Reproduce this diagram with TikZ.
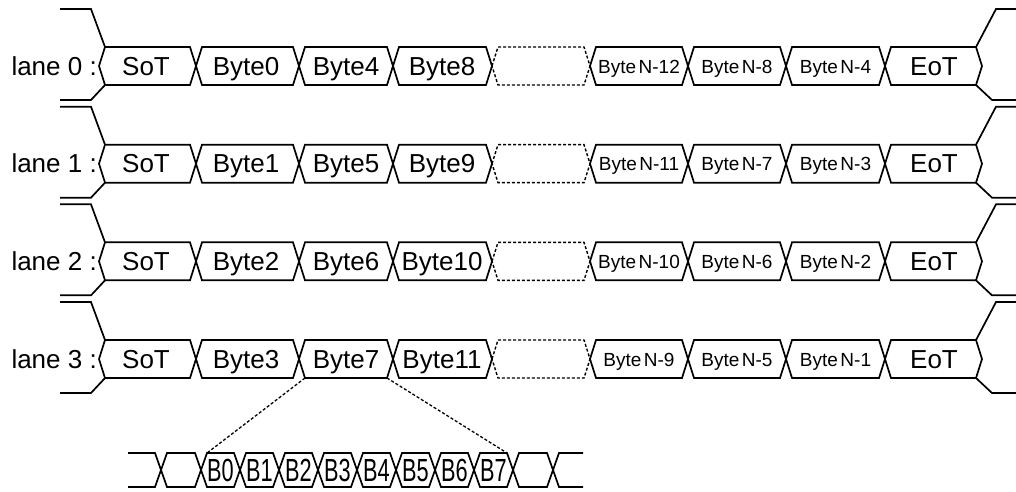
\documentclass[tikz,border=0pt]{standalone}
\usepackage{fontspec}
\usepackage{graphicx}
\setmainfont{Liberation Sans}
\tikzset{
  wave/.style={line width=1.7pt, line join=miter},
  dwave/.style={line width=1.4pt, dash pattern=on 3pt off 2pt},
  zoomline/.style={line width=1.3pt, dash pattern=on 3pt off 2pt},
  bigtxt/.style={font=\fontsize{26}{30}\selectfont, inner sep=0pt, anchor=base},
  smalltxt/.style={font=\fontsize{19}{23}\selectfont, inner sep=0pt, anchor=base},
  lanetxt/.style={font=\fontsize{26}{30}\selectfont, inner sep=0pt, anchor=base east},
  bittxt/.style={font=\fontsize{32}{34}\selectfont, inner sep=0pt, anchor=base}
}
\begin{document}
\begin{tikzpicture}[x=1pt,y=-1pt]
\useasboundingbox (0,0) rectangle (1016,491);
% lanes
\foreach \l/\ba/\bb/\bc/\na/\nb/\nc in {0/Byte0/Byte4/Byte8/12/8/4, 1/Byte1/Byte5/Byte9/11/7/3, 2/Byte2/Byte6/Byte10/10/6/2, 3/Byte3/Byte7/Byte11/9/5/1}{
  \pgfmathsetmacro\c{66+97.67*\l}
  % envelope left
  \draw[wave] (60,\c-57) -- (91,\c-57) -- (105,\c-19);
  \draw[wave] (105,\c+19) -- (91,\c+34) -- (60,\c+34);
  % envelope right
  \draw[wave] (976,\c-19) -- (996,\c-57) -- (1016,\c-57);
  \draw[wave] (976,\c+19) -- (992,\c+34) -- (1016,\c+34);
  % boxes
  \foreach \a/\e in {99/196,196/299,299/393,393/492,590/688,688/786,786/885,885/982}{
    \draw[wave] (\a,\c) -- (\a+6,\c-19) -- (\e-6,\c-19) -- (\e,\c) -- (\e-6,\c+19) -- (\a+6,\c+19) -- cycle;
  }
  \draw[dwave] (492,\c) -- (498,\c-19) -- (584,\c-19) -- (590,\c) -- (584,\c+19) -- (498,\c+19) -- cycle;
  % texts
  \node[lanetxt] (lab\l) at (97,\c+9) {lane \l\ :};
  \node[bigtxt] (sot\l) at (146,\c+9) {SoT};
  \node[bigtxt] (ba\l) at (246,\c+9) {\ba};
  \node[bigtxt] (bb\l) at (346,\c+9) {\bb};
  \node[bigtxt] (bc\l) at (442,\c+9) {\bc};
  \node[smalltxt] (na\l) at (639,\c+7) {Byte\kern2.5pt N-\na};
  \node[smalltxt] (nb\l) at (737,\c+7) {Byte\kern2.5pt N-\nb};
  \node[smalltxt] (nc\l) at (835.5,\c+7) {Byte\kern2.5pt N-\nc};
  \node[bigtxt] (eot\l) at (934,\c+9) {EoT};
}
% bit bus
\draw[wave] (128,453) -- (155,453) -- (161,470) -- (155,487) -- (128,487);
\draw[wave] (583,453) -- (559,453) -- (553,470) -- (559,487) -- (583,487);
\foreach \a/\e in {161/201,513/553}{
  \draw[wave] (\a,470) -- (\a+6,453) -- (\e-6,453) -- (\e,470) -- (\e-6,487) -- (\a+6,487) -- cycle;
}
\foreach \i in {0,...,7}{
  \pgfmathsetmacro\a{201+39*\i}
  \pgfmathsetmacro\e{\a+39}
  \draw[wave] (\a,470) -- (\a+6,453) -- (\e-6,453) -- (\e,470) -- (\e-6,487) -- (\a+6,487) -- cycle;
  \node[bittxt] (bit\i) at (\a+19.5,481) {\scalebox{0.68}[1]{B\i}};
}
% zoom lines
\coordinate (b7bl) at (305,378);
\coordinate (b7br) at (387,378);
\coordinate (bit0tl) at (207,453);
\coordinate (bit7tr) at (507,453);
\draw[zoomline] (b7bl) -- (bit0tl);
\draw[zoomline] (b7br) -- (bit7tr);
\end{tikzpicture}
\end{document}
